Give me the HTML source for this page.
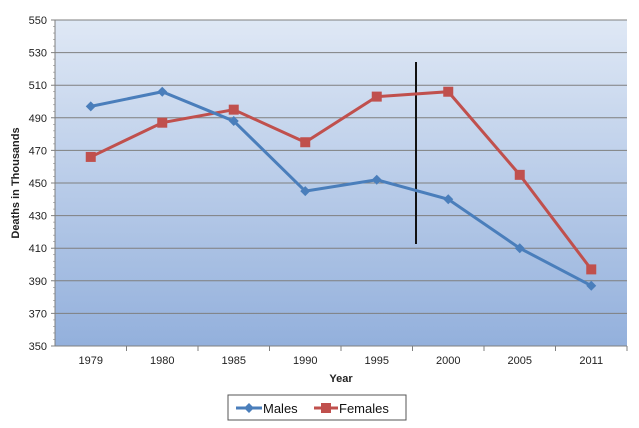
<!DOCTYPE html>
<html><head><meta charset="utf-8"><style>
body{margin:0;background:#fff;font-family:"Liberation Sans",sans-serif}
svg text{font-family:"Liberation Sans",sans-serif}
</style></head><body>
<svg id="c" width="639" height="423" xmlns="http://www.w3.org/2000/svg">
<defs><linearGradient id="bg" x1="0" y1="0" x2="0" y2="1"><stop offset="0" stop-color="#dfe8f5"/><stop offset="1" stop-color="#93b0dc"/></linearGradient></defs>
</svg>
<script>
const categories=["1979","1980","1985","1990","1995","2000","2005","2011"];
const males=[497,506,488,445,452,440,410,387];
const females=[466,487,495,475,503,506,455,397];
const yTicks=[350,370,390,410,430,450,470,490,510,530,550];
const L=55,R=627,T=20,B=346,ymin=350,ymax=550;
const svg=document.getElementById('c');
const NS='http://www.w3.org/2000/svg';
const bw=(R-L)/categories.length;
const x=i=>L+bw*(i+0.5);
const y=v=>B-(v-ymin)/(ymax-ymin)*(B-T);
function mk(t,a,p){const e=document.createElementNS(NS,t);for(const k in a)e.setAttribute(k,a[k]);(p||svg).appendChild(e);return e;}
const bg=mk('rect',{x:L,y:T,width:R-L,height:B-T,fill:'url(#bg)'});


yTicks.forEach(v=>{
 const g=mk('line',{x1:L-4,x2:R,y1:y(v),y2:y(v),stroke:'#7f7f7f','stroke-width':1});
 
 
 const t=mk('text',{x:L-8,y:y(v)+4,'text-anchor':'end','font-size':11,fill:'#222'});t.textContent=v;
 
 
});
for(let v=ymin;v<ymax;v+=4){mk('line',{x1:L-2,x2:L,y1:y(v),y2:y(v),stroke:'#888','stroke-width':0.6});}
mk('line',{x1:L,x2:L,y1:T,y2:B,stroke:'#7f7f7f'});
mk('line',{x1:L,x2:R,y1:B,y2:B,stroke:'#7f7f7f'});
categories.forEach((c,i)=>{
 mk('line',{x1:L+bw*(i+1),x2:L+bw*(i+1),y1:B,y2:B+5,stroke:'#7f7f7f'});
 const t=mk('text',{x:x(i),y:B+18,'text-anchor':'middle','font-size':11,fill:'#222'});t.textContent=c;
 
 
});
const xt=mk('text',{x:341,y:382,'text-anchor':'middle','font-size':11,'font-weight':'bold',fill:'#222'});xt.textContent='Year';


const yt=mk('text',{x:0,y:0,transform:'translate(19,183) rotate(-90)','text-anchor':'middle','font-size':11,'font-weight':'bold',fill:'#222'});yt.textContent='Deaths in Thousands';


const vl=mk('line',{x1:416,x2:416,y1:62,y2:244,stroke:'#111','stroke-width':2});


function series(vals,color,name,marker){
 const p=mk('polyline',{points:vals.map((v,i)=>x(i)+','+y(v)).join(' '),fill:'none',stroke:color,'stroke-width':3});
 
 
 vals.forEach((v,i)=>{
  let m;
  if(marker==='d')m=mk('polygon',{points:`${x(i)},${y(v)-5} ${x(i)+5},${y(v)} ${x(i)},${y(v)+5} ${x(i)-5},${y(v)}`,fill:color});
  else m=mk('rect',{x:x(i)-5,y:y(v)-5,width:10,height:10,fill:color});
  
  
 });
}
series(females,'#c0504d','females','s');
series(males,'#4a7ebb','males','d');
const lg=mk('g',{});


mk('rect',{x:228,y:395,width:178,height:25,fill:'#fff',stroke:'#555'},lg);
mk('line',{x1:236,x2:262,y1:408,y2:408,stroke:'#4a7ebb','stroke-width':3},lg);
mk('polygon',{points:'249,403 254,408 249,413 244,408',fill:'#4a7ebb'},lg);
const t1=mk('text',{x:263,y:413,'font-size':13,fill:'#111'},lg);t1.textContent='Males';
mk('line',{x1:314,x2:338,y1:408,y2:408,stroke:'#c0504d','stroke-width':3},lg);
mk('rect',{x:321,y:403,width:10,height:10,fill:'#c0504d'},lg);
const t2=mk('text',{x:339,y:413,'font-size':13,fill:'#111'},lg);t2.textContent='Females';
</script>
</body></html>
